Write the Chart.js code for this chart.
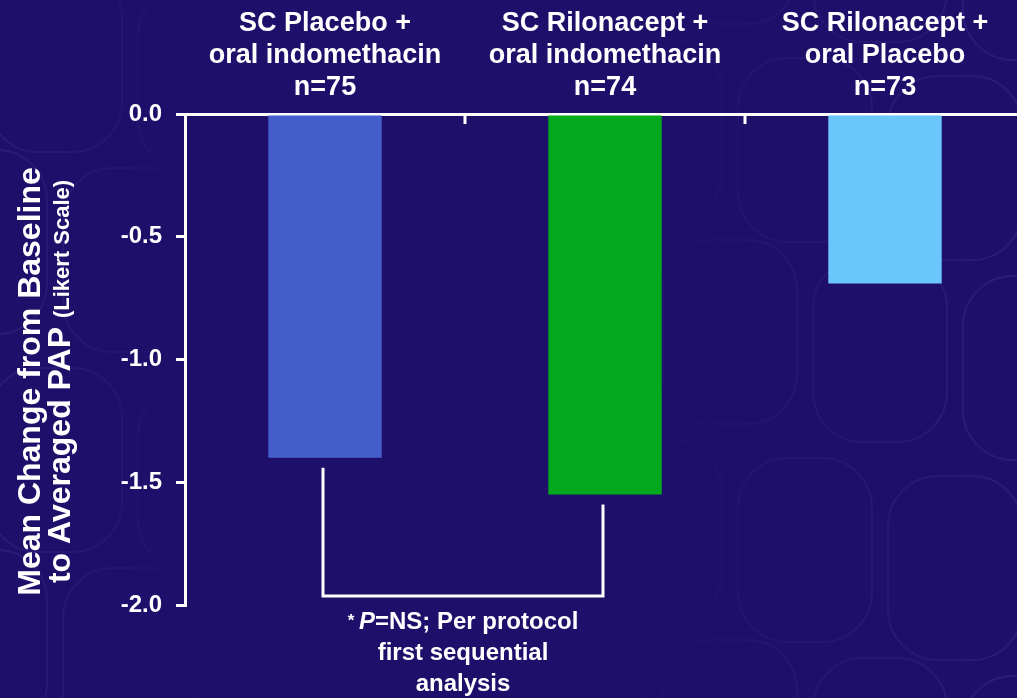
<!DOCTYPE html>
<html>
<head>
<meta charset="utf-8">
<script src="https://cdn.jsdelivr.net/npm/chart.js@4/dist/chart.umd.min.js"></script>
<style>
  html, body { margin: 0; padding: 0; background: #1e106a; overflow: hidden; }
  #wrap { position: relative; width: 1030px; height: 698px; }
</style>
</head>
<body>
<div id="wrap"><canvas id="c"></canvas></div>
<script>
// Treatment arms (multi-line labels above the axis)
const categories = [
  ["SC Placebo +", "oral indomethacin", "n=75"],
  ["SC Rilonacept +", "oral indomethacin", "n=74"],
  ["SC Rilonacept +", "oral Placebo", "n=73"]
];
// Mean change from baseline in averaged PAP (Likert scale)
const meanChange = [-1.40, -1.55, -0.69];
const barColors = ["#445fcb", "#03a91c", "#6bc6fb"];
// Y axis range and tick step
const yMin = -2.0;
const yMax = 0.0;
const yStep = 0.5;
// Axis titles and footnote
const yTitleLine1 = "Mean Change from Baseline";
const yTitleLine2 = "to Averaged PAP ";
const yTitleUnit = "(Likert Scale)";
const footnote = [
  [{ t: "* ", i: false, s: 17 }, { t: "P", i: true, s: 24 }, { t: "=NS; Per protocol", i: false, s: 24 }],
  [{ t: "first sequential", i: false, s: 24 }],
  [{ t: "analysis", i: false, s: 24 }]
];
// Arms joined by the comparison bracket
const bracketPair = [0, 1];

const FONT = "'Liberation Sans', Arial, Helvetica, sans-serif";

const backdrop = {
  id: "backdrop",
  beforeDraw(chart) {
    const ctx = chart.ctx;
    const W = chart.width, H = chart.height;
    ctx.save();
    ctx.fillStyle = "#1e106a";
    ctx.fillRect(0, 0, W, H);
    // faint cell texture, a little stronger toward the left and right edges
    const g = ctx.createLinearGradient(0, 0, W, 0);
    g.addColorStop(0, "rgba(150,140,255,0.09)");
    g.addColorStop(0.2, "rgba(150,140,255,0.0)");
    g.addColorStop(0.6, "rgba(150,140,255,0.0)");
    g.addColorStop(1, "rgba(150,140,255,0.10)");
    ctx.strokeStyle = g;
    ctx.lineWidth = 2;
    const cw = 150, ch = 200;
    for (let col = -1; col < 9; col++) {
      for (let row = -1; row < 5; row++) {
        const x = col * cw + (row % 2 ? cw / 2 : 0) - 20;
        const y = row * ch + col * 18 - 40;
        ctx.beginPath();
        ctx.roundRect(x + 8, y + 8, cw - 16, ch - 16, 50);
        ctx.stroke();
      }
    }
    ctx.restore();
  },
  afterDraw(chart) {
    const ctx = chart.ctx;
    const xs = chart.scales.x;
    const area = chart.chartArea;
    ctx.save();
    ctx.strokeStyle = "#ffffff";
    ctx.fillStyle = "#ffffff";
    ctx.lineWidth = 3;
    ctx.lineCap = "butt";

    // inward tick marks between categories on the top axis
    for (let i = 1; i < categories.length; i++) {
      const bx = Math.round((xs.getPixelForValue(i - 1) + xs.getPixelForValue(i)) / 2);
      ctx.beginPath();
      ctx.moveTo(bx, area.top);
      ctx.lineTo(bx, area.top + 10);
      ctx.stroke();
    }

    // comparison bracket under the two indomethacin arms
    const meta = chart.getDatasetMeta(0);
    const a = meta.data[bracketPair[0]], b = meta.data[bracketPair[1]];
    const gap = 10;
    const yLow = area.bottom - 9;
    const xa = Math.round(a.x) - 2, xb = Math.round(b.x) - 2;
    ctx.beginPath();
    ctx.moveTo(xa, a.y + gap);
    ctx.lineTo(xa, yLow);
    ctx.lineTo(xb, yLow);
    ctx.lineTo(xb, b.y + gap);
    ctx.stroke();

    // footnote centred under the bracket
    const cx = (xa + xb) / 2;
    ctx.textBaseline = "alphabetic";
    ctx.textAlign = "left";
    const fnt = p => (p.i ? "italic " : "") + "bold " + p.s + "px " + FONT;
    footnote.forEach((parts, li) => {
      const y = area.bottom + 24 + li * 31;
      let total = 0;
      parts.forEach(p => { ctx.font = fnt(p); total += ctx.measureText(p.t).width; });
      let x = cx - total / 2;
      parts.forEach(p => {
        ctx.font = fnt(p);
        ctx.fillText(p.t, x, p.s < 20 ? y - 3 : y);
        x += ctx.measureText(p.t).width;
      });
    });

    // rotated y-axis title
    const midY = (area.top + area.bottom) / 2 + 22;
    ctx.translate(0, midY);
    ctx.rotate(-Math.PI / 2);
    ctx.textBaseline = "alphabetic";
    ctx.textAlign = "center";
    ctx.font = "bold 32px " + FONT;
    ctx.fillText(yTitleLine1, 0, 40);
    const w1 = ctx.measureText(yTitleLine2).width;
    ctx.font = "bold 22px " + FONT;
    const w2 = ctx.measureText(yTitleUnit).width;
    const x0 = -(w1 + w2) / 2;
    ctx.textAlign = "left";
    ctx.font = "bold 32px " + FONT;
    ctx.fillText(yTitleLine2, x0, 70);
    ctx.font = "bold 22px " + FONT;
    ctx.fillText(yTitleUnit, x0 + w1, 69);
    ctx.restore();
  }
};

new Chart(document.getElementById("c"), {
  type: "bar",
  data: {
    labels: categories,
    datasets: [{
      data: meanChange,
      backgroundColor: barColors,
      borderWidth: 0,
      categoryPercentage: 1.0,
      barPercentage: 0.405
    }]
  },
  options: {
    responsive: true,
    maintainAspectRatio: false,
    animation: false,
    events: [],
    layout: { padding: { left: 0, right: 5, top: 0, bottom: 93 } },
    plugins: { legend: { display: false }, tooltip: { enabled: false } },
    scales: {
      x: {
        position: "top",
        offset: true,
        grid: { display: true, drawOnChartArea: false, drawTicks: false },
        border: { display: true, color: "#ffffff", width: 3 },
        ticks: {
          color: "#ffffff",
          font: { family: FONT, size: 27, weight: "bold", lineHeight: 1.17 },
          padding: 11,
          maxRotation: 0,
          autoSkip: false
        },
        afterFit(s) { s.height = 114; }
      },
      y: {
        min: yMin,
        max: yMax,
        grid: { drawOnChartArea: false, drawTicks: true, tickLength: 9, color: "#ffffff", lineWidth: 3 },
        border: { display: true, color: "#ffffff", width: 3 },
        ticks: {
          stepSize: yStep,
          color: "#ffffff",
          font: { family: FONT, size: 24, weight: "bold" },
          padding: 14,
          callback: v => Number(v).toFixed(1)
        },
        afterFit(s) { s.width = 185; }
      }
    }
  },
  plugins: [backdrop]
});
</script>
</body>
</html>
